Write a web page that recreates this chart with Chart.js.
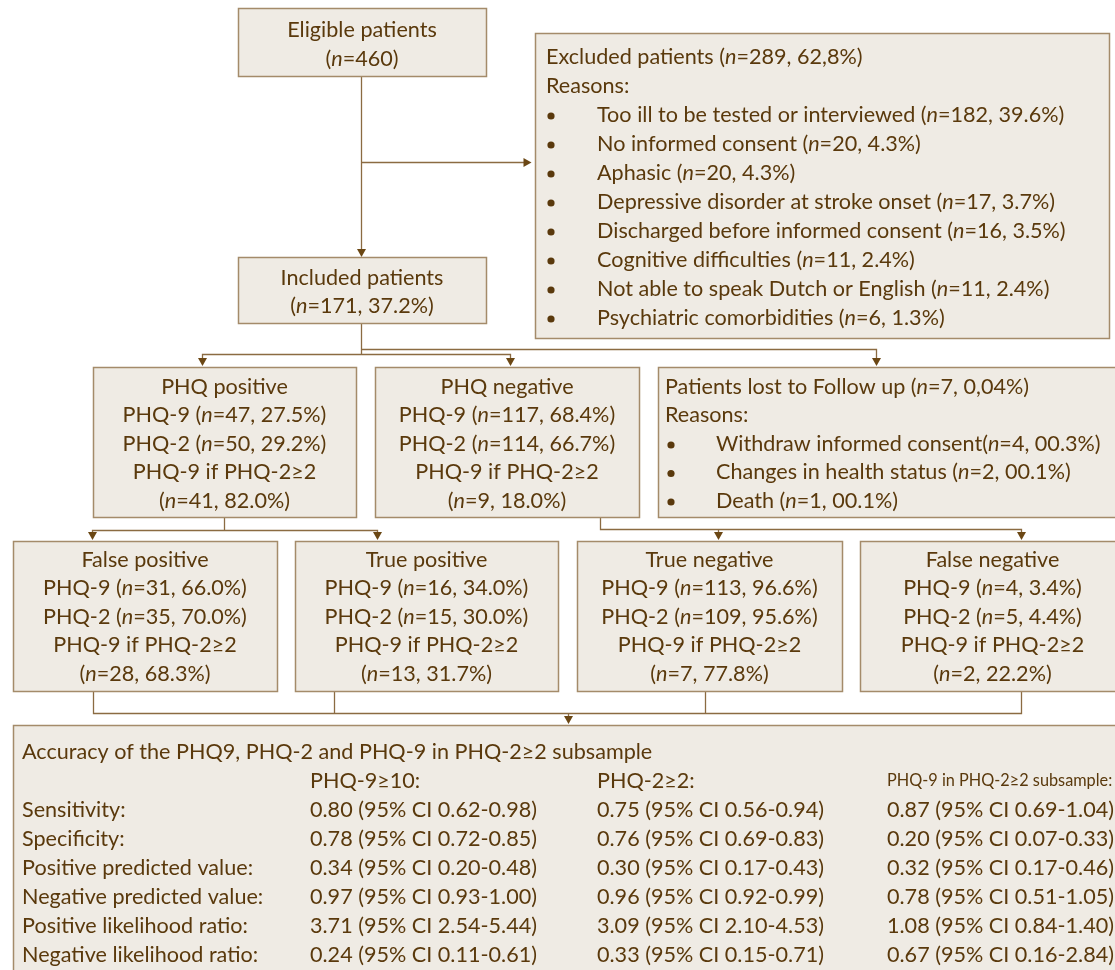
<!DOCTYPE html>
<html>
<head>
<meta charset="utf-8">
<script src="https://cdn.jsdelivr.net/npm/chart.js@4/dist/chart.umd.min.js"></script>
<style>
html,body{margin:0;padding:0;background:#ffffff;}
#wrap{width:1115px;height:970px;position:relative;}
</style>
</head>
<body>
<div id="wrap"><canvas id="c" width="1115" height="970"></canvas></div>
<script>
// ---------------- DATA ----------------
const eligibleN = 460;
const excludedN = 289;
const excludedPct = '62,8%';
const exclusionReasons = ['Too ill to be tested or interviewed','No informed consent','Aphasic','Depressive disorder at stroke onset','Discharged before informed consent','Cognitive difficulties','Not able to speak Dutch or English','Psychiatric comorbidities'];
const exclusionN = [182, 20, 20, 17, 16, 11, 11, 6];
const exclusionPct = ['39.6%','4.3%','4.3%','3.7%','3.5%','2.4%','2.4%','1.3%'];
const includedN = 171;
const includedPct = '37.2%';
const lostN = 7;
const lostPct = '0,04%';
const lostReasons = ['Withdraw informed consent','Changes in health status','Death'];
const lostReasonN = [4, 2, 1];
const lostReasonPct = ['00.3%','00.1%','00.1%'];
const screenGroups = ['PHQ positive','PHQ negative'];
const screenPHQ9N = [47, 117];
const screenPHQ9Pct = ['27.5%','68.4%'];
const screenPHQ2N = [50, 114];
const screenPHQ2Pct = ['29.2%','66.7%'];
const screenStepN = [41, 9];
const screenStepPct = ['82.0%','18.0%'];
const outcomeGroups = ['False positive','True positive','True negative','False negative'];
const outcomePHQ9N = [31, 16, 113, 4];
const outcomePHQ9Pct = ['66.0%','34.0%','96.6%','3.4%'];
const outcomePHQ2N = [35, 15, 109, 5];
const outcomePHQ2Pct = ['70.0%','30.0%','95.6%','4.4%'];
const outcomeStepN = [28, 13, 7, 2];
const outcomeStepPct = ['68.3%','31.7%','77.8%','22.2%'];
const accuracyTitle = 'Accuracy of the PHQ9, PHQ-2 and PHQ-9 in PHQ-2\u22652 subsample';
const accuracyColumns = ['PHQ-9\u226510:','PHQ-2\u22652:','PHQ-9 in PHQ-2\u22652 subsample:'];
const accuracyMeasures = ['Sensitivity:','Specificity:','Positive predicted value:','Negative predicted value:','Positive likelihood ratio:','Negative likelihood ratio:'];
const phq9Est = ['0.80','0.78','0.34','0.97','3.71','0.24'];
const phq9Lo  = ['0.62','0.72','0.20','0.93','2.54','0.11'];
const phq9Hi  = ['0.98','0.85','0.48','1.00','5.44','0.61'];
const phq2Est = ['0.75','0.76','0.30','0.96','3.09','0.33'];
const phq2Lo  = ['0.56','0.69','0.17','0.92','2.10','0.15'];
const phq2Hi  = ['0.94','0.83','0.43','0.99','4.53','0.71'];
const stepEst = ['0.87','0.20','0.32','0.78','1.08','0.67'];
const stepLo  = ['0.69','0.07','0.17','0.51','0.84','0.16'];
const stepHi  = ['1.04','0.33','0.46','1.05','1.40','2.84'];

// ---------------- LAYOUT / STYLE ----------------
const FONT = 'Lato';
const FS = 21.6;
const FS_SMALL = 16.3;
const TEXT = '#5a390c';
const FILL = '#efebe4';
const BORDER = '#a48b6a';
const LINE = '#8b6b42';
const ARROW = '#6b4714';

const nTxt = (n, p) => '(n=' + n + (p ? ', ' + p : '') + ')';
const ci = (e, l, h) => e + ' (95% CI ' + l + '-' + h + ')';

const boxes = [
  {x0:238, y0:8, x1:486, y1:76, align:'center', y:30, dy:29,
   lines:['Eligible patients', nTxt(eligibleN)]},
  {x0:535, y0:33, x1:1109, y1:338, align:'list', tx:546, bx:551, ix:597, y:57, dy:29,
   head:['Excluded patients ' + nTxt(excludedN, excludedPct), 'Reasons:'],
   items: exclusionReasons.map((r,i)=> r + ' ' + nTxt(exclusionN[i], exclusionPct[i]))},
  {x0:238, y0:257, x1:486, y1:323, align:'center', y:278, dy:28,
   lines:['Included patients', nTxt(includedN, includedPct)]},
  {x0:658, y0:367, x1:1125, y1:517, align:'list', tx:665, bx:671, ix:716, y:387, dy:28.5,
   head:['Patients lost to Follow up ' + nTxt(lostN, lostPct), 'Reasons:'],
   items: lostReasons.map((r,i)=> r + (i===0 ? '' : ' ') + nTxt(lostReasonN[i], lostReasonPct[i]))}
];
const row2X = [[93,356],[375,639]];
screenGroups.forEach((g,i)=>boxes.push({x0:row2X[i][0], y0:367, x1:row2X[i][1], y1:517, align:'center', y:387, dy:28.5,
  lines:[g, 'PHQ-9 ' + nTxt(screenPHQ9N[i], screenPHQ9Pct[i]), 'PHQ-2 ' + nTxt(screenPHQ2N[i], screenPHQ2Pct[i]), 'PHQ-9 if PHQ-2\u22652', nTxt(screenStepN[i], screenStepPct[i])]}));
const row3X = [[13,277],[295,558],[577,842],[860,1125]];
outcomeGroups.forEach((g,i)=>boxes.push({x0:row3X[i][0], y0:541, x1:row3X[i][1], y1:691, align:'center', y:560, dy:28.4,
  lines:[g, 'PHQ-9 ' + nTxt(outcomePHQ9N[i], outcomePHQ9Pct[i]), 'PHQ-2 ' + nTxt(outcomePHQ2N[i], outcomePHQ2Pct[i]), 'PHQ-9 if PHQ-2\u22652', nTxt(outcomeStepN[i], outcomeStepPct[i])]}));
const accBox = {x0:13, y0:725, x1:1125, y1:985, y:752, dy:29, cols:[22,310,597,887]};

const connectors = [
  [[361,76],[361,250]],
  [[361,162],[525,162]],
  [[361,323],[361,354]],
  [[361,349],[876,349],[876,360]],
  [[202,360],[202,354],[510,354],[510,360]],
  [[224,517],[224,530]],
  [[92,534],[92,530],[377,530],[377,534]],
  [[600,517],[600,529],[1021,529],[1021,534]],
  [[718,529],[718,534]],
  [[93,691],[93,713],[1021,713],[1021,691]],
  [[334,691],[334,713]],
  [[705,691],[705,713]],
  [[568,713],[568,717]]
];
const arrows = [
  {x:361,y:257,d:'down'},{x:531,y:162,d:'right'},{x:876,y:366,d:'down'},
  {x:202,y:366,d:'down'},{x:510,y:366,d:'down'},
  {x:92,y:540,d:'down'},{x:377,y:540,d:'down'},{x:718,y:540,d:'down'},{x:1021,y:540,d:'down'},
  {x:568,y:724,d:'down'}
];

// ---------------- DRAWING ----------------
function parse(s){
  const out=[]; const re=/n(?==)/g; let last=0, m;
  while((m=re.exec(s))){ if(m.index>last) out.push([s.slice(last,m.index),false]); out.push(['n',true]); last=m.index+1; }
  if(last<s.length) out.push([s.slice(last),false]);
  return out;
}
function font(it, size){ return (it?'italic ':'') + size + 'px ' + FONT; }
function richWidth(ctx, segs, size){ let w=0; segs.forEach(([t,it])=>{ctx.font=font(it,size); w+=ctx.measureText(t).width;}); return w; }
function drawRich(ctx, s, x, y, align, size){
  const segs=parse(s); size=size||FS;
  let cx = align==='center' ? x - richWidth(ctx,segs,size)/2 : x;
  ctx.textAlign='left'; ctx.textBaseline='middle'; ctx.fillStyle=TEXT;
  segs.forEach(([t,it])=>{ ctx.font=font(it,size); ctx.fillText(t,cx,y); cx+=ctx.measureText(t).width; });
}

const flowPlugin = {
  id:'flow',
  afterDraw(chart){
    const ctx=chart.ctx, sx=chart.scales.x, sy=chart.scales.y;
    const X=v=>sx.getPixelForValue(v), Y=v=>sy.getPixelForValue(v);
    ctx.save();
    ctx.strokeStyle=LINE; ctx.lineWidth=1.3;
    connectors.forEach(pts=>{ ctx.beginPath(); pts.forEach((p,i)=>{ const px=Math.round(X(p[0]))+0.5, py=Math.round(Y(p[1]))+0.5; i?ctx.lineTo(px,py):ctx.moveTo(px,py);}); ctx.stroke(); });
    ctx.fillStyle=ARROW;
    arrows.forEach(a=>{ const x=Math.round(X(a.x))+0.5, y=Y(a.y); ctx.beginPath();
      if(a.d==='down'){ ctx.moveTo(x,y); ctx.lineTo(x-4.5,y-8); ctx.lineTo(x+4.5,y-8); }
      else { const yy=Math.round(y)+0.5; ctx.moveTo(x,yy); ctx.lineTo(x-8,yy-4.5); ctx.lineTo(x-8,yy+4.5); }
      ctx.closePath(); ctx.fill(); });
    const drawBox=b=>{ const x0=Math.round(X(b.x0))+0.5, y0=Math.round(Y(b.y0))+0.5, x1=Math.round(X(b.x1))+0.5, y1=Math.round(Y(b.y1))+0.5;
      ctx.fillStyle=FILL; ctx.fillRect(x0,y0,x1-x0,y1-y0); ctx.strokeStyle=BORDER; ctx.lineWidth=1.5; ctx.strokeRect(x0,y0,x1-x0,y1-y0); };
    boxes.forEach(b=>{
      drawBox(b);
      if(b.align==='center'){
        b.lines.forEach((l,i)=>drawRich(ctx,l,X((b.x0+b.x1)/2),Y(b.y+i*b.dy),'center'));
      } else {
        b.head.forEach((l,i)=>drawRich(ctx,l,X(b.tx),Y(b.y+i*b.dy),'left'));
        b.items.forEach((l,i)=>{ const yy=Y(b.y+(i+2)*b.dy);
          ctx.fillStyle=TEXT; ctx.beginPath(); ctx.arc(X(b.bx),yy+1,3.6,0,Math.PI*2); ctx.fill();
          drawRich(ctx,l,X(b.ix),yy,'left'); });
      }
    });
    drawBox(accBox);
    const A=accBox;
    drawRich(ctx,accuracyTitle,X(A.cols[0]),Y(A.y),'left');
    drawRich(ctx,accuracyColumns[0],X(A.cols[1]),Y(A.y+A.dy),'left');
    drawRich(ctx,accuracyColumns[1],X(A.cols[2]),Y(A.y+A.dy),'left');
    drawRich(ctx,accuracyColumns[2],X(A.cols[3]),Y(A.y+A.dy),'left',FS_SMALL);
    accuracyMeasures.forEach((m,i)=>{ const yy=Y(A.y+(i+2)*A.dy);
      drawRich(ctx,m,X(A.cols[0]),yy,'left');
      drawRich(ctx,ci(phq9Est[i],phq9Lo[i],phq9Hi[i]),X(A.cols[1]),yy,'left');
      drawRich(ctx,ci(phq2Est[i],phq2Lo[i],phq2Hi[i]),X(A.cols[2]),yy,'left');
      drawRich(ctx,ci(stepEst[i],stepLo[i],stepHi[i]),X(A.cols[3]),yy,'left');
    });
    ctx.restore();
  }
};

new Chart(document.getElementById('c').getContext('2d'), {
  type:'scatter',
  data:{datasets:[{data:[], pointRadius:0}]},
  options:{
    responsive:false, animation:false, events:[],
    layout:{padding:0},
    plugins:{legend:{display:false}, tooltip:{enabled:false}, title:{display:false}},
    scales:{
      x:{type:'linear', min:0, max:1115, display:false},
      y:{type:'linear', min:0, max:970, reverse:true, display:false}
    }
  },
  plugins:[flowPlugin]
});
</script>
</body>
</html>
